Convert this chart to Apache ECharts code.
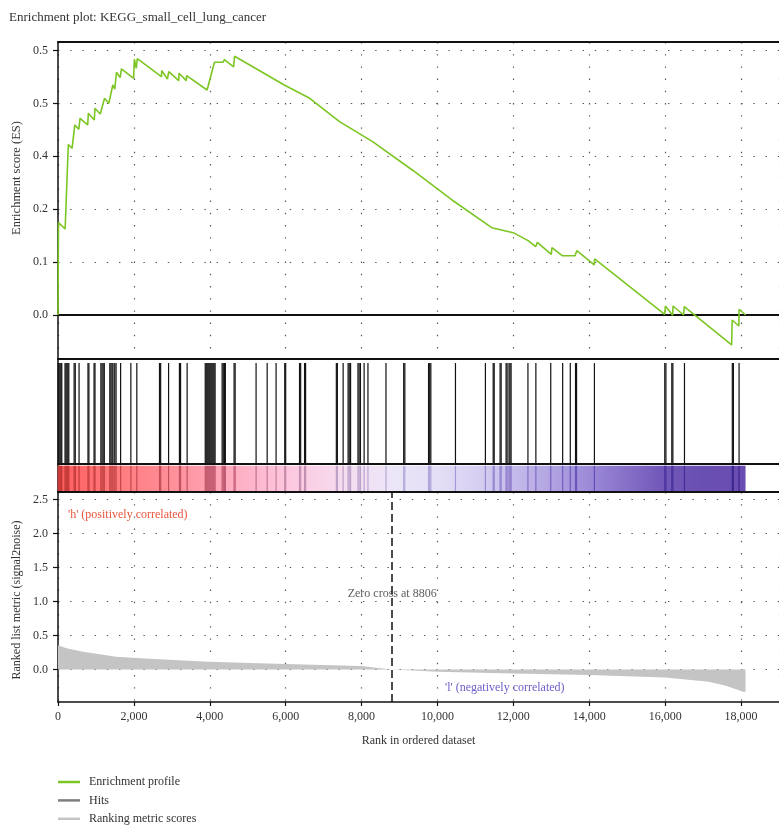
<!DOCTYPE html>
<html>
<head>
<meta charset="utf-8">
<script src="https://cdn.jsdelivr.net/npm/echarts@6/dist/echarts.min.js"></script>
<style>
  html, body { margin: 0; padding: 0; background: #fff; }
  #chart { width: 779px; height: 826px; }
</style>
</head>
<body>
<div id="chart"></div>
<script>
// Running enrichment score along the ranked gene list
const esRanks = [0, 13, 188, 272, 371, 442, 547, 581, 782, 800, 957, 973, 1114, 1227, 1339, 1444, 1496, 1541, 1638, 1672,
  1993, 2012, 2064, 2090, 2726, 2736, 2883, 2919, 3181, 3189, 3380, 3390, 3929, 4123, 4348, 4384, 4628, 4654,
  5962, 6634, 7419, 8290, 9336, 10383, 11429, 11996, 12389, 12588, 12632, 12998, 13017, 13286, 13626, 13671,
  14131, 14141, 15988, 16006, 16197, 16208, 16485, 16504, 17752, 17767, 17942, 17950, 18118];
const esScores = [0, 0.1745, 0.1626, 0.3223, 0.3151, 0.3592, 0.3510, 0.3718, 0.3592, 0.3813, 0.3686, 0.3907, 0.3800, 0.4096,
  0.4002, 0.4348, 0.4267, 0.4588, 0.4486, 0.4650, 0.4474, 0.4834, 0.4664, 0.4845, 0.4505, 0.4618, 0.4461, 0.4599,
  0.4429, 0.4569, 0.4429, 0.4524, 0.4253, 0.4777, 0.4777, 0.4826, 0.4688, 0.4890, 0.4348, 0.4096, 0.3654, 0.3276,
  0.2741, 0.2174, 0.1650, 0.1556, 0.1405, 0.1291, 0.1374, 0.1147, 0.1272, 0.1121, 0.1121, 0.1215, 0.0945, 0.1059,
  0.0013, 0.0170, -0.0006, 0.0170, 0.0000, 0.0157, -0.0567, -0.0095, -0.0208, 0.0108, 0.0000];

// Y tick positions of the ES panel and the labels printed at them
const esTickValues = [0, 0.1, 0.2, 0.3, 0.4, 0.5];
const esTickLabels = ['0.0', '0.1', '0.2', '0.4', '0.5', '0.5'];

// Positions of gene-set members in the ranked list
const hitRanks = [5, 30, 55, 80, 100, 185, 210, 235, 260, 285, 425, 455, 555, 790, 815, 950, 975,
  1130, 1160, 1190, 1220, 1365, 1395, 1425, 1450, 1495, 1530, 1650, 1920, 2077, 2675, 2705, 2914,
  3200, 3230, 3403, 3880, 3906, 3932, 3958, 3984, 4010, 4036, 4062, 4088, 4114, 4140,
  4325, 4355, 4385, 4410, 4640, 4668, 5220, 5512, 5747, 5975, 6000, 6365, 6395, 6497, 6525,
  7335, 7362, 7514, 7645, 7675, 7710, 7905, 7935, 7970, 8067, 8168, 8643, 9110, 9140,
  9765, 9795, 9825, 10474, 11263, 11468, 11495, 11650, 11678, 11808, 11835, 11885, 11912, 11940,
  12384, 12593, 12985, 13299, 13500, 13638, 13665, 14136, 15990, 16020, 16175, 16203, 16509,
  17770, 17798, 17948];

// Ranked list metric (signal2noise)
const metricRanks = [0, 225, 660, 1100, 1530, 2400, 3970, 5980, 7980, 8806, 10000, 12000, 14000, 16000, 17150, 17600, 18060, 18118];
const metricValues = [0.357, 0.31, 0.26, 0.225, 0.185, 0.156, 0.112, 0.078, 0.049, 0, -0.035, -0.059, -0.084, -0.118, -0.182, -0.241, -0.329, -0.33];
const metricTickValues = [0, 0.5, 1, 1.5, 2, 2.5];

const zeroCross = 8806;
const listSize = 18118;
const rankTickStep = 2000;

// Colour ramp of the ranked-list heat band and the darker shade used for hits over it
const bandStops = [[0, '#ff5e5e'], [1500, '#ff7a7c'], [3000, '#ff8f98'], [4500, '#ffaabe'], [6000, '#fdc6de'],
  [7500, '#f6dcef'], [8800, '#ece6f8'], [10000, '#e4def6'], [11000, '#d8d0f2'], [12500, '#bcb0e6'],
  [14000, '#9c8ad8'], [15900, '#7258b9'], [17000, '#6a4fb2'], [18118, '#6a4cb0']];
const stripeStops = [[0, '#c03434'], [1500, '#c44646'], [3000, '#c0505c'], [4500, '#c05a74'], [6000, '#c48aa8'],
  [7500, '#bca0c8'], [8800, '#b4acd8'], [10000, '#aca2d8'], [11000, '#a090d4'], [12500, '#7e6cc4'],
  [14000, '#6650b8'], [15900, '#4a34a0'], [17000, '#3c2890'], [18118, '#3c2890']];

function hexToRgb(h) {
  return [parseInt(h.slice(1, 3), 16), parseInt(h.slice(3, 5), 16), parseInt(h.slice(5, 7), 16)];
}
function rampColor(stops, r) {
  for (let i = 1; i < stops.length; i++) {
    if (r <= stops[i][0]) {
      const t = (r - stops[i - 1][0]) / (stops[i][0] - stops[i - 1][0]);
      const a = hexToRgb(stops[i - 1][1]), b = hexToRgb(stops[i][1]);
      const c = a.map((v, k) => Math.round(v + (b[k] - v) * t));
      return 'rgb(' + c.join(',') + ')';
    }
  }
  return stops[stops.length - 1][1];
}

const FONT = 'Liberation Serif';
const TEXT = '#333';
const dotted = { type: [1.4, 10.8], color: '#555', width: 1.2 };
const gridLeft = 58, gridWidth = 726.3, rankMax = 19000;

const chart = echarts.init(document.getElementById('chart'));

const baseX = (gridIndex) => ({
  type: 'value', gridIndex, min: 0, max: rankMax, interval: rankTickStep,
  axisLabel: { show: false }, axisTick: { show: false }, splitLine: { show: false },
  axisLine: { show: true, onZero: false, lineStyle: { color: '#111', width: 2 } }
});

// One legend block per entry keeps the rows evenly spaced at the foot of the page
const legendEntries = [
  { name: 'Enrichment profile', color: '#7cc623', top: 776 },
  { name: 'Hits', color: '#7f7f7f', top: 794.4 },
  { name: 'Ranking metric scores', color: '#c4c4c4', top: 812.8 }
];

const option = {
  animation: false,
  textStyle: { fontFamily: FONT },
  title: {
    text: 'Enrichment plot: KEGG_small_cell_lung_cancer',
    left: 9, top: 11, padding: 0,
    textStyle: { fontFamily: FONT, fontSize: 13, fontWeight: 'normal', color: TEXT }
  },
  grid: [
    { left: gridLeft, top: 42, width: gridWidth, height: 317 },
    { left: gridLeft, top: 359, width: gridWidth, height: 105 },
    { left: gridLeft, top: 464, width: gridWidth, height: 28 },
    { left: gridLeft, top: 492, width: gridWidth, height: 210 }
  ],
  xAxis: [
    Object.assign(baseX(0), { splitLine: { show: true, lineStyle: dotted } }),
    Object.assign(baseX(0), { position: 'top' }),
    baseX(1),
    baseX(2),
    Object.assign(baseX(3), {
      axisLine: { show: true, onZero: false, lineStyle: { color: '#111', width: 1.5 } },
      axisTick: { show: true, inside: false, length: 4, lineStyle: { color: '#111', width: 1.2 } },
      axisLabel: {
        show: true, showMaxLabel: false, margin: 9, color: TEXT, fontFamily: FONT, fontSize: 12,
        formatter: (v) => v.toLocaleString('en-US')
      },
      splitLine: { show: true, lineStyle: dotted },
      name: 'Rank in ordered dataset', nameLocation: 'middle', nameGap: 33,
      nameTextStyle: { color: TEXT, fontFamily: FONT, fontSize: 12 }
    })
  ],
  yAxis: [
    {
      type: 'value', gridIndex: 0, min: -0.0832, max: 0.516,
      axisLine: { show: true, onZero: false, lineStyle: { color: '#111', width: 1.5 } },
      axisTick: { show: true, length: 5, customValues: esTickValues, lineStyle: { color: '#111', width: 1.2 } },
      axisLabel: {
        show: true, margin: 10, color: TEXT, fontFamily: FONT, fontSize: 12,
        customValues: esTickValues,
        formatter: (v) => {
          const i = esTickValues.findIndex((t) => Math.abs(t - v) < 1e-6);
          return i >= 0 ? esTickLabels[i] : '';
        }
      },
      splitLine: { show: true, lineStyle: dotted }
    },
    {
      type: 'value', gridIndex: 1, min: 0, max: 1.04,
      axisLine: { show: true, onZero: false, lineStyle: { color: '#111', width: 1.5 } },
      axisTick: { show: false }, axisLabel: { show: false }, splitLine: { show: false }
    },
    {
      type: 'value', gridIndex: 2, min: 0, max: 1,
      axisLine: { show: true, onZero: false, lineStyle: { color: '#111', width: 1.5 } },
      axisTick: { show: false }, axisLabel: { show: false }, splitLine: { show: false }
    },
    {
      type: 'value', gridIndex: 3, min: -0.48, max: 2.613,
      axisLine: { show: true, onZero: false, lineStyle: { color: '#111', width: 1.5 } },
      axisTick: { show: true, length: 5, customValues: metricTickValues, lineStyle: { color: '#111', width: 1.2 } },
      axisLabel: {
        show: true, margin: 10, color: TEXT, fontFamily: FONT, fontSize: 12,
        customValues: metricTickValues,
        formatter: (v) => (metricTickValues.some((t) => Math.abs(t - v) < 1e-6) ? v.toFixed(1) : '')
      },
      splitLine: { show: true, lineStyle: dotted }
    }
  ],
  legend: legendEntries.map((e) => ({
    orient: 'vertical', left: 58, top: e.top, padding: 0,
    itemWidth: 22, itemHeight: 2.5, icon: 'rect',
    textStyle: { fontFamily: FONT, fontSize: 12, color: TEXT, padding: [0, 0, 0, 4] },
    data: [{ name: e.name, itemStyle: { color: e.color } }]
  })),
  graphic: [
    {
      type: 'text', x: 17, y: 178, rotation: Math.PI / 2,
      style: { text: 'Enrichment score (ES)', fill: TEXT, font: '12.5px "Liberation Serif"', align: 'center', verticalAlign: 'middle' }
    },
    {
      type: 'text', x: 17, y: 600, rotation: Math.PI / 2,
      style: { text: 'Ranked list metric (signal2noise)', fill: TEXT, font: '12px "Liberation Serif"', align: 'center', verticalAlign: 'middle' }
    },
    {
      type: 'text', x: 68, y: 515,
      style: { text: "'h' (positively correlated)", fill: '#e8553d', font: '12px "Liberation Serif"', align: 'left', verticalAlign: 'middle' }
    },
    {
      type: 'text', x: 445, y: 688,
      style: { text: "'l' (negatively correlated)", fill: '#6a5fc8', font: '12px "Liberation Serif"', align: 'left', verticalAlign: 'middle' }
    }
  ],
  series: [
    {
      name: 'Enrichment profile', type: 'line', xAxisIndex: 0, yAxisIndex: 0, z: 4,
      data: esRanks.map((r, i) => [r, esScores[i]]),
      symbol: 'none', color: '#7cc623',
      lineStyle: { color: '#7cc623', width: 1.6 },
      markLine: {
        silent: true, symbol: 'none', z: 1, label: { show: false },
        lineStyle: { color: '#111', width: 2, type: 'solid' },
        data: [{ yAxis: 0 }]
      }
    },
    {
      name: 'Hits', type: 'custom', xAxisIndex: 2, yAxisIndex: 1,
      itemStyle: { color: '#7f7f7f' },
      data: hitRanks.map((r) => [r]),
      renderItem: (params, api) => {
        const bottom = api.coord([api.value(0), 0]);
        const top = api.coord([api.value(0), 1]);
        return {
          type: 'rect',
          shape: { x: bottom[0] - 0.6, y: top[1], width: 1.2, height: bottom[1] - top[1] },
          style: { fill: '#121212' }
        };
      }
    },
    {
      name: 'band', type: 'custom', xAxisIndex: 3, yAxisIndex: 2, silent: true,
      data: [[0, listSize]],
      renderItem: (params, api) => {
        const p0 = api.coord([api.value(0), 0.036]);
        const p1 = api.coord([api.value(1), 0.94]);
        return {
          type: 'rect',
          shape: { x: p0[0], y: p1[1], width: p1[0] - p0[0], height: p0[1] - p1[1] },
          style: {
            fill: {
              type: 'linear', x: 0, y: 0, x2: 1, y2: 0,
              colorStops: bandStops.map((s) => ({ offset: s[0] / listSize, color: s[1] }))
            }
          }
        };
      }
    },
    {
      name: 'band hits', type: 'custom', xAxisIndex: 3, yAxisIndex: 2, silent: true,
      data: hitRanks.map((r) => [r]),
      renderItem: (params, api) => {
        const p0 = api.coord([api.value(0), 0.036]);
        const p1 = api.coord([api.value(0), 0.94]);
        return {
          type: 'rect',
          shape: { x: p0[0] - 0.6, y: p1[1], width: 1.2, height: p0[1] - p1[1] },
          style: { fill: rampColor(stripeStops, api.value(0)) }
        };
      }
    },
    {
      name: 'Ranking metric scores', type: 'line', xAxisIndex: 4, yAxisIndex: 3,
      data: metricRanks.map((r, i) => [r, metricValues[i]]),
      symbol: 'none', color: '#c4c4c4',
      lineStyle: { width: 0 },
      areaStyle: { color: '#c4c4c4', opacity: 1 },
      markLine: {
        silent: true, symbol: 'none', label: { show: false },
        lineStyle: { color: '#111', width: 1.5, type: [8, 4] },
        data: [{ xAxis: zeroCross }]
      }
    },
    {
      name: 'zero cross', type: 'scatter', xAxisIndex: 4, yAxisIndex: 3, silent: true,
      symbolSize: 0,
      data: [[zeroCross, 1.118]],
      label: {
        show: true, position: 'inside', color: TEXT, fontFamily: FONT, fontSize: 12,
        formatter: () => 'Zero cross at ' + zeroCross
      }
    }
  ]
};

chart.setOption(option);
</script>
</body>
</html>
